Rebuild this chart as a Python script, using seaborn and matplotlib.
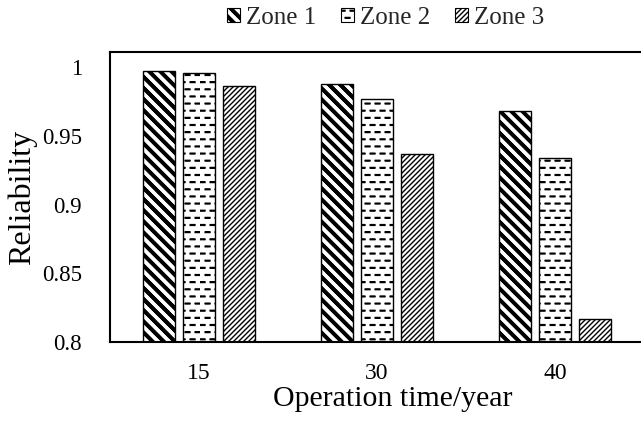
import warnings
warnings.filterwarnings("ignore")

import numpy as np
import pandas as pd
import matplotlib
matplotlib.use("Agg")
import matplotlib.pyplot as plt
import matplotlib.hatch as mhatch
from matplotlib.path import Path
from matplotlib.patches import Patch
import seaborn as sns

# ---------------- data ----------------
years = ["15", "30", "40"]
zones = ["Zone 1", "Zone 2", "Zone 3"]
zone1 = [0.997, 0.988, 0.968]
zone2 = [0.9955, 0.977, 0.934]
zone3 = [0.9865, 0.937, 0.817]
y_ticks = [0.8, 0.85, 0.9, 0.95, 1.0]
y_tick_labels = ["0.8", "0.85", "0.9", "0.95", "1"]
x_label = "Operation time/year"
y_label = "Reliability"


# ---------------- custom hatch patterns ----------------
class _SegHatch(mhatch.HatchPatternBase):
    key = ""

    def __init__(self, hatch, density):
        self.segs = self.segments() if (hatch and self.key in hatch) else []
        self.num_vertices = 2 * len(self.segs)

    def segments(self):
        return []

    def set_vertices_and_codes(self, vertices, codes):
        for i, (x0, y0, x1, y1) in enumerate(self.segs):
            vertices[2 * i] = (x0, y0)
            vertices[2 * i + 1] = (x1, y1)
            codes[2 * i] = Path.MOVETO
            codes[2 * i + 1] = Path.LINETO


class ThickBackslash(_SegHatch):
    key = "b"

    def segments(self):
        n = 9
        segs = []
        for k in range(0, 2 * n + 1):
            c = k / n
            for d in np.linspace(-0.018, 0.018, 7):
                segs.append((0.0, c + d, 1.0, c + d - 1.0))
        return segs


class Dashes(_SegHatch):
    key = "_"

    def segments(self):
        rows, cols, L = 14, 10, 0.045
        segs = []
        for r in range(rows):
            y = (r + 0.5) / rows
            off = 0.0 if r % 2 == 0 else 0.5 / cols
            for c in range(cols):
                x0 = c / cols + off + 0.003
                for dy in (-0.004, 0.004):
                    segs.append((x0, y + dy, x0 + L, y + dy))
        return segs


class FineSlash(_SegHatch):
    key = "f"

    def segments(self):
        n = 20
        segs = []
        for k in range(-n, n + 1):
            c = k / n
            segs.append((0.0, c, 1.0, c + 1.0))
        return segs


mhatch._hatch_types.extend([ThickBackslash, Dashes, FineSlash])
hatches = ["b", "_", "f"]

# ---------------- style ----------------
sns.set_style("white")
plt.rcParams["font.family"] = ["Liberation Serif", "DejaVu Serif"]
plt.rcParams["hatch.linewidth"] = 1.0
plt.rcParams["hatch.color"] = "black"

df = pd.DataFrame({
    "year": years * 3,
    "zone": [z for z in zones for _ in years],
    "rel": zone1 + zone2 + zone3,
})

fig = plt.figure(figsize=(6.41, 4.29), dpi=100)
ax = fig.add_axes([110 / 641, 1 - 342 / 429, 534 / 641, 290 / 429])

sns.barplot(data=df, x="year", y="rel", hue="zone", order=years,
            hue_order=zones, palette=["white"] * 3, saturation=1,
            width=0.675, gap=0.2, edgecolor="black", linewidth=1.0,
            errorbar=None, legend=False, ax=ax)

for cont, h in zip(ax.containers, hatches):
    for bar in cont:
        bar.set_hatch(h)

ax.set_ylim(0.8, 1.011)
ax.set_yticks(y_ticks, y_tick_labels)
ax.tick_params(axis="y", direction="in", length=5, width=1.0,
               labelsize=16.5, pad=20, colors="black")
ax.tick_params(axis="x", length=0, labelsize=17, pad=15, colors="black")

for side in ["left", "top", "bottom", "right"]:
    ax.spines[side].set_visible(True)
    ax.spines[side].set_color("black")
    ax.spines[side].set_linewidth(1.5)

ax.set_xlabel(x_label, fontsize=21.5, color="black")
ax.set_ylabel(y_label, fontsize=23, color="black")
ax.xaxis.set_label_coords((393 - 110) / 534, (342 - 386) / 290)
ax.yaxis.set_label_coords((22 - 110) / 534, 0.5)
ax.yaxis.label.set_va("center")

handles = [Patch(facecolor="white", edgecolor="black", hatch=h,
                 linewidth=0.8, label=z) for h, z in zip(hatches, zones)]
fig.legend(handles=handles, loc="center", ncol=3, frameon=False,
           bbox_to_anchor=(386 / 641, 1 - 18 / 429), fontsize=18,
           handlelength=0.5, handleheight=0.5, handletextpad=0.25,
           columnspacing=1.0, borderaxespad=0, borderpad=0)

fig.savefig("out.png", dpi=100)
